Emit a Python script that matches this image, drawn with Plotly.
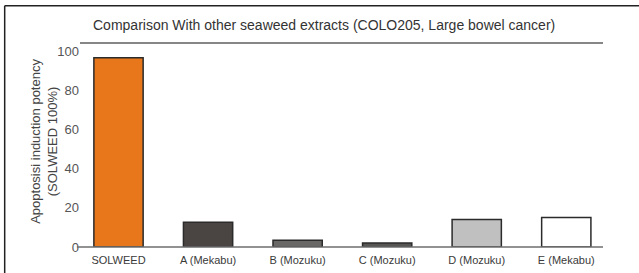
import plotly.graph_objects as go

categories = ["SOLWEED", "A (Mekabu)", "B (Mozuku)", "C (Mozuku)", "D (Mozuku)", "E (Mekabu)"]
values = [96.8, 12.7, 3.5, 2.1, 14.1, 15.1]
colors = ["#E8761A", "#4A4542", "#6A6866", "#585654", "#C0C0C0", "#FFFFFF"]
y_ticks = [0, 20, 40, 60, 80, 100]

fig = go.Figure()
fig.add_trace(go.Bar(
    x=list(range(len(categories))), y=values,
    marker=dict(color=colors, line=dict(color="#2B2B2B", width=1.5)),
    width=0.55,
))

fig.update_layout(
    width=639, height=273,
    margin=dict(l=80, r=36, t=43, b=26),
    paper_bgcolor="white", plot_bgcolor="white",
    showlegend=False,
    font=dict(family="Liberation Sans, Arial, sans-serif", color="#555555"),
    xaxis=dict(
        tickmode="array", tickvals=list(range(len(categories))), ticktext=categories,
        range=[-0.43, 5.41], showline=False, showgrid=False, zeroline=False,
        ticks="", tickfont=dict(size=11, color="#3A3A3A"), ticklabelstandoff=5,
        automargin=False,
    ),
    yaxis=dict(
        range=[0, 104.3], tickvals=y_ticks, showgrid=False, zeroline=False,
        showline=False, ticks="", tickfont=dict(size=13, color="#555555"),
        ticklabelstandoff=0, automargin=False,
    ),
    shapes=[
        dict(type="line", xref="paper", yref="paper", x0=-0.006, x1=1.0, y0=0, y1=0,
             line=dict(color="#6E6E6E", width=1.6), layer="above"),
        dict(type="line", xref="paper", yref="paper", x0=0, x1=1.0, y0=1, y1=1,
             line=dict(color="#5E5E5E", width=1.6)),
        # outer frame (left and top)
        dict(type="line", xref="paper", yref="paper", x0=-0.144, x1=1.1, y0=1.182, y1=1.182,
             line=dict(color="#222222", width=1.5)),
        dict(type="line", xref="paper", yref="paper", x0=-0.144, x1=-0.144, y0=1.182, y1=-0.2,
             line=dict(color="#222222", width=1.5)),
    ],
    annotations=[
        dict(text="Comparison With other seaweed extracts (COLO205, Large bowel cancer)",
             xref="paper", yref="paper", x=0.467, y=1.088, showarrow=False,
             font=dict(size=14, color="#333333"), xanchor="center", yanchor="middle"),
        dict(text="Apoptosisi induction potency<br>(SOLWEED 100%)",
             xref="paper", yref="paper", x=-0.069, y=0.52, showarrow=False, textangle=-90,
             font=dict(size=13, color="#444444"), xanchor="center", yanchor="middle"),
    ],
)

fig.write_html("out.html", config={"displayModeBar": False},
               post_script="document.body.style.margin='0';document.body.style.overflow='hidden';")
